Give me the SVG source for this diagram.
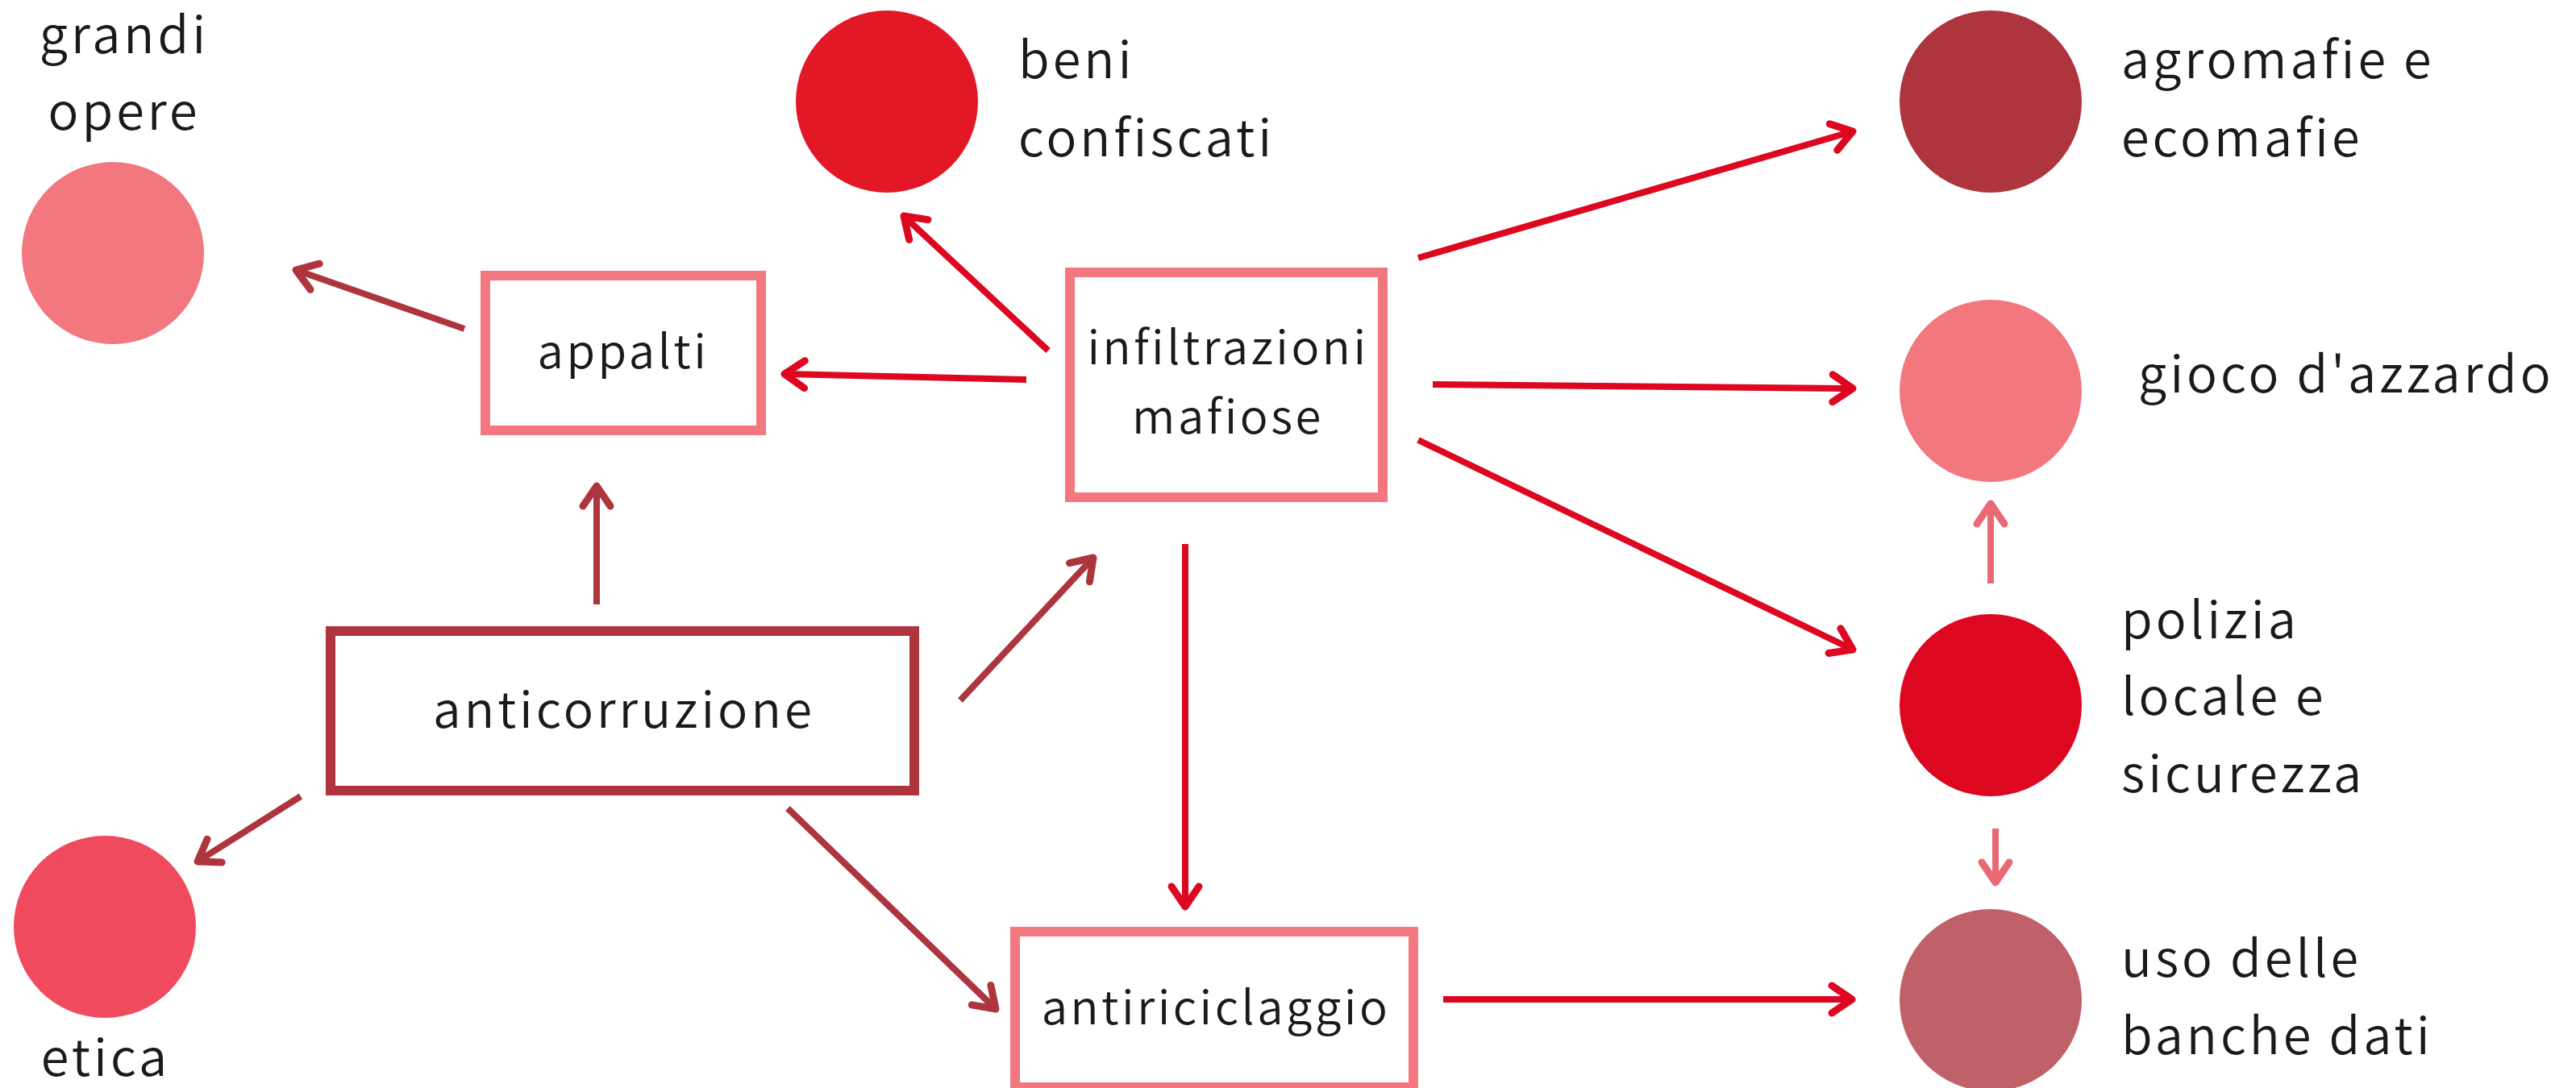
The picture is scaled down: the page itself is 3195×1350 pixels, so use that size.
<svg xmlns="http://www.w3.org/2000/svg" width="3195" height="1350" viewBox="0 0 3195 1350">
<defs>
<style>
.lbl{font-family:"Noto Sans CJK JP","Noto Sans",sans-serif;font-size:63px;font-weight:350;fill:#1a1a1a;letter-spacing:4px}
.bl{font-size:58px;letter-spacing:3.5px;text-anchor:middle}
.big{font-size:62px;letter-spacing:4px}
.mid{text-anchor:middle}
.box{fill:#fff;stroke-width:12}
.pink{stroke:#F3777F}
.dark{stroke:#AE343E}
.c line{stroke-width:8;fill:none}
.red{stroke:#DD0720}
.lite{stroke:#E76A75}
</style>
<marker id="hr" markerUnits="userSpaceOnUse" orient="auto" refX="0" refY="0" markerWidth="60" markerHeight="60" viewBox="-40 -30 60 60" overflow="visible">
<path d="M-25,-17 L0,0 L-25,17" fill="none" stroke="#DD0720" stroke-width="9" stroke-linecap="round" stroke-linejoin="round"/>
</marker>
<marker id="hd" markerUnits="userSpaceOnUse" orient="auto" refX="0" refY="0" markerWidth="60" markerHeight="60" viewBox="-40 -30 60 60" overflow="visible">
<path d="M-25,-17 L0,0 L-25,17" fill="none" stroke="#AE343E" stroke-width="9" stroke-linecap="round" stroke-linejoin="round"/>
</marker>
<marker id="hl" markerUnits="userSpaceOnUse" orient="auto" refX="0" refY="0" markerWidth="60" markerHeight="60" viewBox="-40 -30 60 60" overflow="visible">
<path d="M-25,-17 L0,0 L-25,17" fill="none" stroke="#E76A75" stroke-width="9" stroke-linecap="round" stroke-linejoin="round"/>
</marker>
</defs>
<rect width="3195" height="1350" fill="#fff"/>

<g id="connectors" class="c">
<line class="dark" x1="576" y1="408" x2="367" y2="335" marker-end="url(#hd)"/>
<line class="red" x1="1273" y1="471" x2="973" y2="464" marker-end="url(#hr)"/>
<line class="red" x1="1300" y1="435" x2="1121" y2="268" marker-end="url(#hr)"/>
<line class="red" x1="1759" y1="320" x2="2298" y2="163" marker-end="url(#hr)"/>
<line class="red" x1="1777" y1="477" x2="2298" y2="482" marker-end="url(#hr)"/>
<line class="red" x1="1759" y1="546" x2="2298" y2="806" marker-end="url(#hr)"/>
<line class="red" x1="1470" y1="675" x2="1470" y2="1125" marker-end="url(#hr)"/>
<line class="dark" x1="740" y1="750" x2="740" y2="603" marker-end="url(#hd)"/>
<line class="dark" x1="1191" y1="869" x2="1356" y2="692" marker-end="url(#hd)"/>
<line class="dark" x1="373" y1="988" x2="245" y2="1069" marker-end="url(#hd)"/>
<line class="dark" x1="977" y1="1003" x2="1235" y2="1252" marker-end="url(#hd)"/>
<line class="red" x1="1790" y1="1240" x2="2297" y2="1240" marker-end="url(#hr)"/>
<line class="lite" x1="2469" y1="724" x2="2469" y2="625" marker-end="url(#hl)"/>
<line class="lite" x1="2475" y1="1028" x2="2475" y2="1095" marker-end="url(#hl)"/>
</g>

<g id="grandi-opere">
<circle cx="140" cy="314" r="113" fill="#F3777F"/>
<text class="lbl mid" x="154" y="66">grandi</text>
<text class="lbl mid" x="154" y="161">opere</text>
</g>
<g id="beni-confiscati">
<circle cx="1100" cy="126" r="113" fill="#E31827"/>
<text class="lbl" x="1263" y="97">beni</text>
<text class="lbl" x="1263" y="194">confiscati</text>
</g>
<g id="agromafie">
<circle cx="2469" cy="126" r="113" fill="#AE343E"/>
<text class="lbl" x="2631" y="97">agromafie e</text>
<text class="lbl" x="2631" y="194">ecomafie</text>
</g>
<g id="gioco">
<circle cx="2469" cy="485" r="113" fill="#F3777F"/>
<text class="lbl" x="2652" y="487">gioco d'azzardo</text>
</g>
<g id="polizia">
<circle cx="2469" cy="875" r="113" fill="#DD0720"/>
<text class="lbl" x="2631" y="792">polizia</text>
<text class="lbl" x="2631" y="887">locale e</text>
<text class="lbl" x="2631" y="983">sicurezza</text>
</g>
<g id="uso-banche-dati">
<circle cx="2469" cy="1241" r="113" fill="#C06068"/>
<text class="lbl" x="2631" y="1212">uso delle</text>
<text class="lbl" x="2631" y="1308">banche dati</text>
</g>
<g id="etica">
<circle cx="130" cy="1150" r="113" fill="#F04A5E"/>
<text class="lbl mid" x="131" y="1335">etica</text>
</g>
<g id="appalti">
<rect class="box pink" x="602" y="342" width="342" height="192"/>
<text class="lbl bl" x="773" y="457">appalti</text>
</g>
<g id="infiltrazioni">
<rect class="box pink" x="1327" y="338" width="388" height="279"/>
<text class="lbl bl" x="1523" y="452">infiltrazioni</text>
<text class="lbl bl" x="1523" y="538">mafiose</text>
</g>
<g id="anticorruzione">
<rect class="box dark" x="410" y="783" width="724" height="198"/>
<text class="lbl bl big" x="774" y="903">anticorruzione</text>
</g>
<g id="antiriciclaggio">
<rect class="box pink" x="1259" y="1156" width="494" height="193"/>
<text class="lbl bl" x="1508" y="1271">antiriciclaggio</text>
</g>
</svg>
